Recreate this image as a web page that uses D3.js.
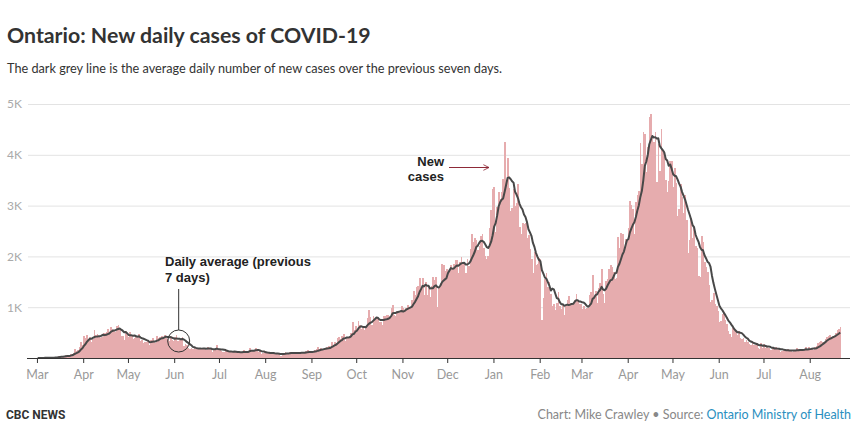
<!DOCTYPE html>
<html>
<head>
<meta charset="utf-8">
<script src="https://cdn.jsdelivr.net/npm/d3@7"></script>
<style>
  body { margin: 0; background: #fff; }
  svg { display: block; }
</style>
</head>
<body>
<svg id="chart" width="854" height="433"></svg>
<script>
// daily new cases reported in Ontario, one array per month (Mar 2020 -> Aug 2021)
const mar2020 = [2,1,3,2,4,5,6,2,4,2,5,17,20,24,42,32,23,25,44,50,48,59,74,78,100,170,135,151,211,313,260];
const apr2020 = [426,401,462,375,408,309,379,550,462,478,411,401,421,483,494,514,564,497,606,565,551,510,634,640,567,437,424,347,525,459];
const may2020 = [421,511,434,370,387,412,399,477,329,346,294,308,315,329,258,345,391,340,304,427,390,413,441,412,460,404,383,344,441,358,326];
const jun2020 = [404,446,338,356,345,415,243,270,251,203,182,199,184,194,181,190,173,186,184,203,178,163,211,189,180,111,161,187,257,157];
const jul2020 = [153,146,121,120,138,154,112,118,118,116,130,116,111,102,100,111,164,135,111,103,203,165,135,147,195,138,119,137,76,89,134];
const aug2020 = [95,95,104,86,75,88,102,70,84,86,33,102,88,117,105,86,115,87,100,95,89,108,102,115,100,108,104,132,148,117,116];
const sep2020 = [114,132,148,170,213,169,190,149,185,202,213,232,204,313,251,315,293,401,407,365,425,478,335,409,409,435,491,700,554,625];
const oct2020 = [538,732,653,566,615,548,583,797,939,809,649,821,746,807,783,712,704,658,821,822,841,841,826,978,1042,851,834,934,896,896,1015];
const nov2020 = [977,948,987,1050,998,1003,1132,1328,1242,1388,1426,1575,1396,1581,1248,1487,1249,1417,1210,1418,1588,1534,1589,1009,1373,1478,1855,1822,1708,1746];
const dec2020 = [1707,1723,1824,1780,1859,1924,1925,1676,1890,1983,1848,1873,1677,1940,1808,2139,2432,2290,2357,2316,2123,2202,2408,2447,2159,2005,1939,2005,2553,2923,3328];
const jan2021 = [3363,2476,2964,3270,3128,3266,3519,4249,3443,3945,3338,2903,2961,3326,2998,3056,3422,2578,2432,2655,2632,2662,2359,2417,2154,1958,1670,2093,1837,1848,1969];
const feb2021 = [1958,745,1172,1563,1670,1388,1489,1265,1022,1072,945,1076,1300,1022,964,1038,847,1038,1150,1228,1087,1058,1054,1138,1258,1138,1064,1062];
const mar2021 = [966,1023,958,994,990,1250,1299,1631,1185,1316,1092,1371,1468,1747,1268,1074,1508,1553,1745,1829,1791,1699,1546,1571,2380,2169,2453,2448,2094,2336,2333];
const apr2021 = [2557,3089,3009,2938,2448,3065,3215,3295,4227,3813,4456,4401,3670,4156,4736,4812,4362,4250,4447,3469,4212,3682,4505,4094,3947,3510,3265,3480,3871,3887];
const may2021 = [3369,3732,3436,2791,2941,3424,3166,2864,3216,2716,2073,2320,2759,2362,2584,2199,2170,1616,1588,2400,2290,1890,1794,1691,1446,1095,1135,1273,1057,1033,916];
const jun2021 = [699,733,870,914,744,663,525,469,411,590,574,530,447,530,384,370,384,318,355,318,270,255,296,256,256,287,206,184,299,200];
const jul2021 = [284,200,209,194,166,164,194,185,210,179,166,114,146,153,143,159,176,135,130,127,150,151,192,170,172,129,133,185,218,172,208];
const aug2021 = [178,172,164,213,230,290,310,330,321,324,380,420,430,450,400,440,420,500,560,580,620];

const yTicks = [1000, 2000, 3000, 4000, 5000];
const yTickLabels = ['1K', '2K', '3K', '4K', '5K'];

// ---- montar a série diária ----
const meses = [mar2020, apr2020, may2020, jun2020, jul2020, aug2020, sep2020, oct2020, nov2020, dec2020,
               jan2021, feb2021, mar2021, apr2021, may2021, jun2021, jul2021, aug2021];
const data = [];
meses.forEach((arr, m) => {
    arr.forEach((v, i) => {
        data.push({ date: new Date(2020, 2 + m, 1 + i), value: v });
    });
});
// média dos sete dias anteriores (o próprio dia incluído)
data.forEach((d, i) => {
    d.avg = d3.mean(data.slice(Math.max(0, i - 6), i + 1), e => e.value);
});

const svg = d3.select('#chart');

// --- Escalas ---
const x = d3.scaleTime()
    .domain([new Date(2020, 1, 24), new Date(2021, 7, 28)])
    .range([28, 850]);

const y = d3.scaleLinear()
    .domain([0, 5000])
    .range([358, 104]);

// --- Títulos ---
svg.append('text')
    .attr('x', 7).attr('y', 43)
    .attr('font-family', 'Lato, sans-serif')
    .attr('font-weight', 700)
    .attr('font-size', 21.3)
    .attr('fill', '#333')
    .text('Ontario: New daily cases of COVID-19');

svg.append('text')
    .attr('x', 7).attr('y', 73)
    .attr('font-family', 'Lato, sans-serif')
    .attr('font-size', 12.7)
    .attr('fill', '#333')
    .text('The dark grey line is the average daily number of new cases over the previous seven days.');

// --- Grade e eixo Y ---
const gy = svg.append('g')
    .call(d3.axisLeft(y).tickValues(yTicks).tickSize(-(850 - 28)).tickFormat((d, i) => yTickLabels[i]))
    .attr('transform', 'translate(28,0)');
gy.select('.domain').remove();
gy.selectAll('.tick line').attr('stroke', '#e3e3e3');
gy.selectAll('.tick text')
    .attr('x', -21)
    .attr('text-anchor', 'start')
    .attr('fill', '#aaa')
    .attr('font-family', 'Lato, sans-serif')
    .attr('font-size', 12);

// --- Barras diárias (largura cheia, sem espaço entre os dias) ---
svg.append('g')
    .attr('shape-rendering', 'crispEdges')
    .selectAll('rect')
    .data(data)
    .join('rect')
    .attr('x', d => x(d.date))
    .attr('y', d => y(d.value))
    .attr('width', d => x(d3.timeDay.offset(d.date, 1)) - x(d.date) + 0.3)
    .attr('height', d => y(0) - y(d.value))
    .attr('fill', '#e6acae');

// --- Linha da média ---
const line = d3.line()
    .x(d => x(d.date) + 0.7)
    .y(d => y(d.avg));

svg.append('path')
    .datum(data)
    .attr('d', line)
    .attr('fill', 'none')
    .attr('stroke', '#484848')
    .attr('stroke-width', 2)
    .attr('stroke-linejoin', 'round');

// --- Eixo X ---
const gx = svg.append('g')
    .attr('transform', `translate(0,${y(0)})`)
    .call(d3.axisBottom(x).ticks(d3.timeMonth.every(1)).tickFormat(d3.timeFormat('%b')).tickSize(5).tickSizeOuter(0));
gx.select('.domain').attr('stroke', '#333').attr('d', 'M27,0.5H850');
gx.selectAll('.tick line').attr('stroke', '#333');
gx.selectAll('.tick text')
    .attr('y', 12)
    .attr('fill', '#999')
    .attr('font-family', 'Lato, sans-serif')
    .attr('font-size', 12.5);

// --- Anotações ---
const ann = svg.append('g')
    .attr('font-family', '"Liberation Sans", Arial, sans-serif')
    .attr('font-weight', 700)
    .attr('font-size', 13)
    .attr('fill', '#222');

ann.append('text').attr('x', 165).attr('y', 266).text('Daily average (previous');
ann.append('text').attr('x', 165).attr('y', 282).text('7 days)');

const junho = new Date(2020, 5, 4);
ann.append('line')
    .attr('x1', x(junho)).attr('x2', x(junho))
    .attr('y1', 289).attr('y2', 330)
    .attr('stroke', '#333').attr('stroke-width', 1);
ann.append('circle')
    .attr('cx', x(junho)).attr('cy', 341).attr('r', 11)
    .attr('fill', 'none').attr('stroke', '#333').attr('stroke-width', 1);

ann.append('text').attr('x', 444).attr('y', 166).attr('text-anchor', 'end').text('New');
ann.append('text').attr('x', 444).attr('y', 181).attr('text-anchor', 'end').text('cases');

svg.append('defs').append('marker')
    .attr('id', 'seta')
    .attr('viewBox', '0 0 10 10')
    .attr('refX', 9).attr('refY', 5)
    .attr('markerWidth', 7).attr('markerHeight', 7)
    .attr('orient', 'auto')
    .append('path')
    .attr('d', 'M1,1L9,5L1,9')
    .attr('fill', 'none')
    .attr('stroke', '#8e2a38')
    .attr('stroke-width', 1.2);

svg.append('line')
    .attr('x1', 449).attr('x2', 489)
    .attr('y1', 167.5).attr('y2', 167.5)
    .attr('stroke', '#8e2a38')
    .attr('stroke-width', 1)
    .attr('marker-end', 'url(#seta)');

// --- Rodapé ---
svg.append('text')
    .attr('x', 6).attr('y', 419)
    .attr('font-family', '"Liberation Sans Narrow", "Roboto", sans-serif')
    .attr('font-weight', 700)
    .attr('font-size', 12)
    .attr('fill', '#333')
    .text('CBC NEWS');

const fonte = svg.append('text')
    .attr('x', 851).attr('y', 419)
    .attr('text-anchor', 'end')
    .attr('font-family', 'Lato, sans-serif')
    .attr('font-size', 12.5)
    .attr('fill', '#888');
fonte.append('tspan').text('Chart: Mike Crawley • Source: ');
fonte.append('tspan').attr('fill', '#2a8fc0').text('Ontario Ministry of Health');
</script>
</body>
</html>
